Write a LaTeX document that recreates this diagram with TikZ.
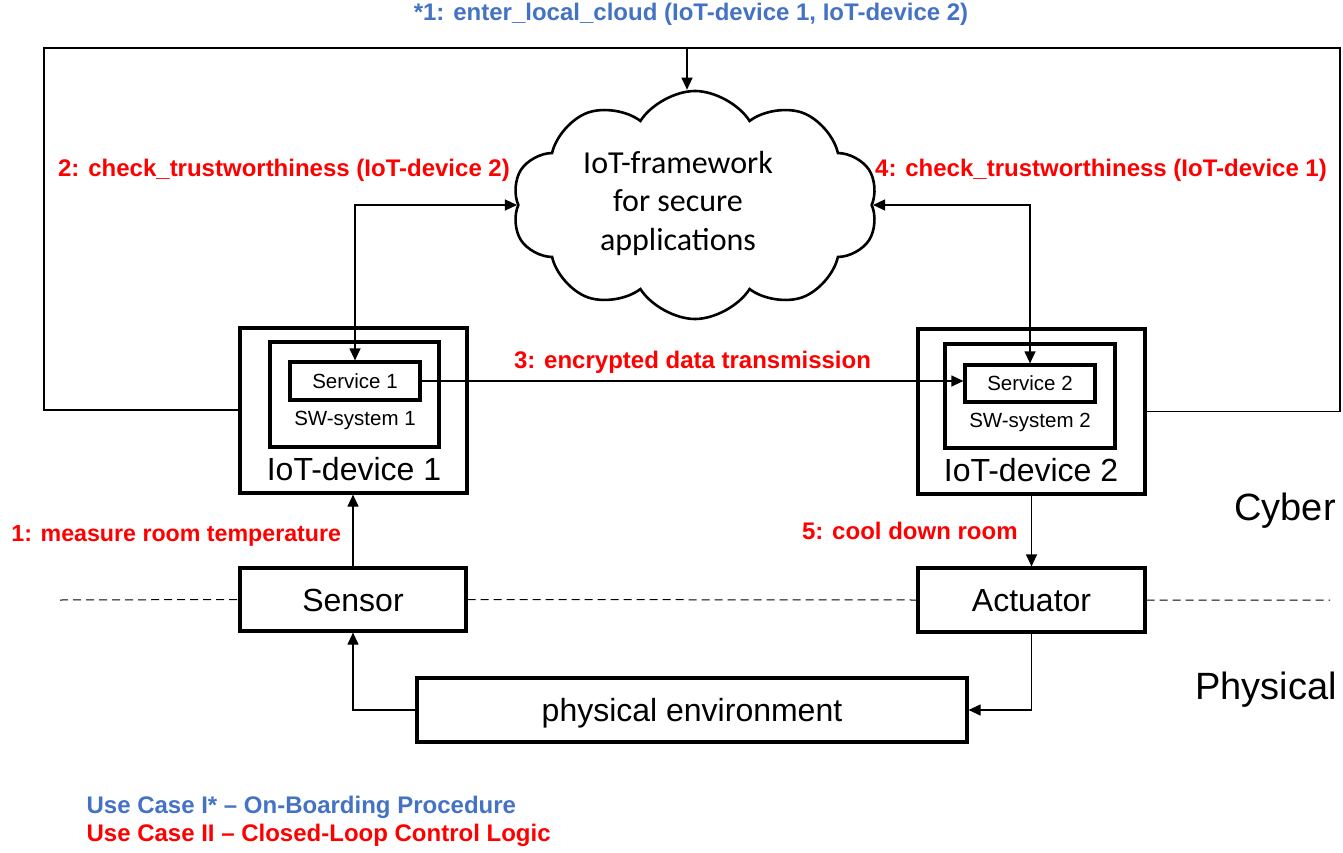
\documentclass[tikz,border=0pt]{standalone}
\usepackage{fontspec}
\setmainfont{Liberation Sans}
\newfontfamily\cloudfont{Carlito}
\usetikzlibrary{arrows.meta,positioning,shapes.symbols}
\definecolor{caseblue}{RGB}{68,114,196}
\definecolor{casered}{RGB}{255,0,0}

\begin{document}
\begin{tikzpicture}[x=1pt,y=-1pt, line width=1.2pt,
  >={Triangle[length=12pt,width=11pt]},
  box/.style={draw,line width=3.2pt,inner sep=0pt},
  boxtext/.style={font=\fontsize{32}{36}\selectfont,text height=28pt,text depth=5pt},
  smalltext/.style={font=\fontsize{20.5}{24}\selectfont},
  redlabel/.style={text=casered,font=\bfseries\fontsize{24}{28}\selectfont},
  bluelabel/.style={text=caseblue,font=\bfseries\fontsize{24}{28}\selectfont},
  layer/.style={font=\fontsize{38}{42}\selectfont}]
\useasboundingbox (0,0) rectangle (1343,853);

% cloud
\node[cloud,draw,line width=2.6pt,cloud puffs=10,cloud puff arc=115,aspect=1.7,
  minimum width=366,minimum height=228] (cloud) at (695,205) {};
\node[align=center,font=\cloudfont\fontsize{32}{38.5}\selectfont] (cloudtxt) at (678,203)
  {IoT-framework\\for secure\\applications};

% IoT-devices
\node[box,minimum width=227,minimum height=165] (dev1) at (353.5,410.5) {};
\node[box,minimum width=169,minimum height=105] (sw1) at (354.5,394.5) {};
\node[box,minimum width=130,minimum height=38,smalltext] (s1) at (355,381) {Service 1};
\node[smalltext] (sw1txt) at (355,420) {SW-system 1};
\node[font=\fontsize{32}{36}\selectfont] (dev1txt) at (354,469) {IoT-device 1};

\node[box,minimum width=227,minimum height=165] (dev2) at (1031.5,411.5) {};
\node[box,minimum width=170,minimum height=104] (sw2) at (1030,396) {};
\node[box,minimum width=130,minimum height=37,smalltext] (s2) at (1030,383.5) {Service 2};
\node[smalltext] (sw2txt) at (1030,422) {SW-system 2};
\node[font=\fontsize{32}{36}\selectfont] (dev2txt) at (1031,470) {IoT-device 2};

% physical layer
\node[box,minimum width=226,minimum height=63,boxtext] (sensor) at (353,599.5) {Sensor};
\node[box,minimum width=227,minimum height=64,boxtext] (actuator) at (1031.5,600) {Actuator};
\node[box,minimum width=550,minimum height=64,boxtext] (env) at (692,710) {physical environment};

% cyber / physical border
\coordinate (borderL) at (60,600);
\coordinate (borderR) at (1330,600);
\draw[dash pattern=on 8pt off 5pt,line width=1pt]
  (borderL) -- (sensor.west) (sensor.east) -- (actuator.west) (actuator.east) -- (borderR);

% on-boarding loop
\coordinate (loopNW) at (44,48);
\coordinate (loopNE) at (1340,48);
\coordinate (cloudin) at (687,48);
\draw (dev1.west |- 0,410) -| (loopNW) -- (loopNE) |- (dev2.east);
\draw[->] (cloudin) -- (cloudin |- cloud.north);

% control loop
\draw[<->] (s1.north) |- (cloud.west);
\draw[<->] (cloud.east) -| (s2.north);
\draw[->] (s1.east) -- node[redlabel,above=4pt] {3: encrypted data transmission} (s1.east -| s2.west);
\draw[->] (sensor.north) -- node[redlabel,font=\bfseries\fontsize{23.2}{28}\selectfont,left=8pt,yshift=-5.5pt] {1: measure room temperature} (sensor.north |- dev1.south);
\draw[->] (dev2.south -| actuator.north) -- node[redlabel,left=10pt] {5: cool down room} (actuator.north);
\draw[->] (actuator.south) |- (env.east);
\draw[->] (env.west) -| (sensor.south);

% labels
\node[bluelabel] (onboard) at (691,14) {*1: enter\_local\_cloud (IoT-device 1, IoT-device 2)};
\node[redlabel] (check2) at (284,170) {2: check\_trustworthiness (IoT-device 2)};
\node[redlabel] (check1) at (1101,170) {4: check\_trustworthiness (IoT-device 1)};
\node[layer] (cyber) at (1285,511) {Cyber};
\node[layer] (physical) at (1266,690) {Physical};

% legend
\node[bluelabel,anchor=west,inner sep=0pt] (leg1) at (86,807) {Use Case I* – On-Boarding Procedure};
\node[redlabel,anchor=west,inner sep=0pt] (leg2) at (86,835) {Use Case II – Closed-Loop Control Logic};
\end{tikzpicture}
\end{document}
